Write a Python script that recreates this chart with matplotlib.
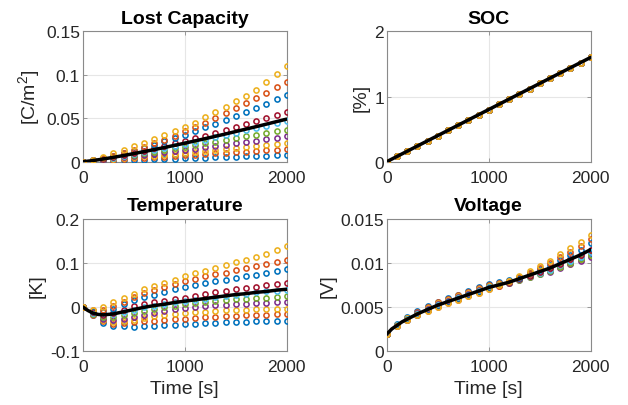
import matplotlib
matplotlib.use("Agg")
import matplotlib.pyplot as plt

plt.rcParams['font.family'] = ['Liberation Sans', 'DejaVu Sans']
plt.rcParams['mathtext.default'] = 'regular'

# ---------------- data ----------------
t = [0, 100, 200, 300, 400, 500, 600, 700, 800, 900, 1000,
     1100, 1200, 1300, 1400, 1500, 1600, 1700, 1800, 1900, 2000]
t_line = [0, 50, 100, 150, 200, 300, 400, 500, 600, 700, 800, 900, 1000,
          1100, 1200, 1300, 1400, 1500, 1600, 1700, 1800, 1900, 2000]

series_colors = ['#0072BD', '#D95319', '#EDB120', '#7E2F8E', '#77AC30',
                 '#4DBEEE', '#A2142F', '#0072BD', '#D95319', '#EDB120']

cap_s1 = [0, 0.0005, 0.0009, 0.0013, 0.0017, 0.0021, 0.0025, 0.0029, 0.0032, 0.0036, 0.0040, 0.0044, 0.0047, 0.0051, 0.0055, 0.0058, 0.0062, 0.0066, 0.0070, 0.0073, 0.0077]
cap_s2 = [0, 0.0007, 0.0015, 0.0022, 0.0029, 0.0037, 0.0044, 0.0051, 0.0058, 0.0066, 0.0073, 0.0080, 0.0088, 0.0095, 0.0102, 0.0110, 0.0117, 0.0124, 0.0131, 0.0139, 0.0146]
cap_s3 = [0, 0.0009, 0.0019, 0.0029, 0.0039, 0.0049, 0.0060, 0.0070, 0.0080, 0.0091, 0.0102, 0.0112, 0.0123, 0.0134, 0.0144, 0.0155, 0.0166, 0.0177, 0.0188, 0.0199, 0.0210]
cap_s4 = [0, 0.0011, 0.0024, 0.0037, 0.0050, 0.0064, 0.0078, 0.0092, 0.0106, 0.0121, 0.0136, 0.0151, 0.0166, 0.0181, 0.0196, 0.0211, 0.0227, 0.0243, 0.0258, 0.0274, 0.0290]
cap_s5 = [0, 0.0014, 0.0030, 0.0047, 0.0064, 0.0081, 0.0099, 0.0117, 0.0136, 0.0154, 0.0173, 0.0192, 0.0211, 0.0231, 0.0250, 0.0270, 0.0290, 0.0309, 0.0330, 0.0350, 0.0370]
cap_s6 = [0, 0.0013, 0.0030, 0.0048, 0.0068, 0.0089, 0.0111, 0.0133, 0.0157, 0.0180, 0.0205, 0.0229, 0.0255, 0.0280, 0.0306, 0.0333, 0.0360, 0.0387, 0.0414, 0.0442, 0.0470]
cap_s7 = [0, 0.0014, 0.0033, 0.0054, 0.0077, 0.0102, 0.0127, 0.0154, 0.0182, 0.0211, 0.0240, 0.0270, 0.0301, 0.0333, 0.0365, 0.0398, 0.0431, 0.0465, 0.0500, 0.0535, 0.0570]
cap_s8 = [0, 0.0016, 0.0039, 0.0066, 0.0096, 0.0127, 0.0161, 0.0197, 0.0233, 0.0272, 0.0311, 0.0352, 0.0394, 0.0437, 0.0481, 0.0527, 0.0573, 0.0619, 0.0667, 0.0716, 0.0765]
cap_s9 = [0, 0.0017, 0.0040, 0.0068, 0.0100, 0.0135, 0.0172, 0.0212, 0.0255, 0.0301, 0.0349, 0.0398, 0.0450, 0.0503, 0.0558, 0.0615, 0.0673, 0.0733, 0.0794, 0.0856, 0.0920]
cap_s10 = [0, 0.0022, 0.0055, 0.0095, 0.0135, 0.0175, 0.0212, 0.0258, 0.0308, 0.0355, 0.0400, 0.0450, 0.0510, 0.0570, 0.0630, 0.0700, 0.0760, 0.0830, 0.0920, 0.1010, 0.1100]
cap_model = [0, 0.0006, 0.0013, 0.0022, 0.0031, 0.0050, 0.0071, 0.0093, 0.0116, 0.0139, 0.0163, 0.0188, 0.0213, 0.0239, 0.0265, 0.0292, 0.0319, 0.0347, 0.0375, 0.0403, 0.0432, 0.0461, 0.0490]

soc_points = [0, 0.08, 0.16, 0.24, 0.32, 0.40, 0.48, 0.56, 0.64, 0.72, 0.80, 0.88, 0.96, 1.04, 1.12, 1.20, 1.28, 1.36, 1.44, 1.52, 1.60]
soc_model = [0, 0.04, 0.08, 0.12, 0.16, 0.24, 0.32, 0.40, 0.48, 0.56, 0.64, 0.72, 0.80, 0.88, 0.96, 1.04, 1.12, 1.20, 1.28, 1.36, 1.44, 1.52, 1.60]

temp_s1 = [0, -0.019, -0.036, -0.043, -0.044, -0.045, -0.044, -0.043, -0.042, -0.040, -0.039, -0.038, -0.037, -0.036, -0.035, -0.035, -0.034, -0.033, -0.033, -0.032, -0.031]
temp_s2 = [0, -0.018, -0.033, -0.038, -0.037, -0.035, -0.033, -0.031, -0.030, -0.028, -0.027, -0.025, -0.024, -0.023, -0.021, -0.020, -0.019, -0.019, -0.018, -0.017, -0.017]
temp_s3 = [0, -0.017, -0.030, -0.034, -0.032, -0.029, -0.025, -0.021, -0.018, -0.016, -0.014, -0.012, -0.011, -0.009, -0.008, -0.007, -0.006, -0.005, -0.005, -0.004, -0.004]
temp_s4 = [0, -0.016, -0.027, -0.030, -0.027, -0.023, -0.018, -0.013, -0.009, -0.005, -0.002, 0.000, 0.002, 0.004, 0.005, 0.006, 0.007, 0.008, 0.009, 0.010, 0.011]
temp_s5 = [0, -0.015, -0.024, -0.024, -0.019, -0.014, -0.009, -0.005, -0.001, 0.003, 0.006, 0.008, 0.011, 0.013, 0.015, 0.017, 0.018, 0.020, 0.021, 0.023, 0.024]
temp_s6 = [0, -0.014, -0.019, -0.016, -0.011, -0.006, -0.001, 0.003, 0.006, 0.010, 0.013, 0.016, 0.019, 0.022, 0.025, 0.028, 0.030, 0.033, 0.035, 0.037, 0.039]
temp_s7 = [0, -0.012, -0.018, -0.014, -0.006, 0.002, 0.006, 0.010, 0.014, 0.018, 0.021, 0.025, 0.029, 0.033, 0.037, 0.040, 0.043, 0.046, 0.049, 0.052, 0.054]
temp_s8 = [0, -0.010, -0.012, -0.005, 0.006, 0.015, 0.022, 0.028, 0.034, 0.040, 0.045, 0.050, 0.054, 0.058, 0.062, 0.066, 0.070, 0.073, 0.077, 0.081, 0.085]
temp_s9 = [0, -0.008, -0.006, 0.002, 0.012, 0.022, 0.031, 0.039, 0.046, 0.053, 0.059, 0.064, 0.069, 0.074, 0.078, 0.083, 0.088, 0.093, 0.098, 0.102, 0.107]
temp_s10 = [0, -0.006, 0.000, 0.010, 0.021, 0.030, 0.040, 0.048, 0.055, 0.062, 0.069, 0.076, 0.082, 0.088, 0.095, 0.101, 0.107, 0.114, 0.120, 0.128, 0.138]
temp_model = [0, -0.008, -0.014, -0.017, -0.018, -0.016, -0.011, -0.006, -0.001, 0.003, 0.006, 0.010, 0.013, 0.016, 0.019, 0.022, 0.025, 0.028, 0.030, 0.033, 0.035, 0.038, 0.040]

volt_s1 = [0.00190, 0.00302, 0.00384, 0.00452, 0.00510, 0.00560, 0.00600, 0.00640, 0.00680, 0.00720, 0.00760, 0.00783, 0.00806, 0.00838, 0.00870, 0.00902, 0.00934, 0.00976, 0.01018, 0.01059, 0.01110]
volt_s2 = [0.00190, 0.00299, 0.00378, 0.00444, 0.00500, 0.00550, 0.00590, 0.00630, 0.00670, 0.00710, 0.00750, 0.00772, 0.00795, 0.00826, 0.00857, 0.00888, 0.00919, 0.00960, 0.01001, 0.01041, 0.01090]
volt_s3 = [0.00190, 0.00296, 0.00372, 0.00436, 0.00490, 0.00540, 0.00580, 0.00620, 0.00660, 0.00700, 0.00740, 0.00762, 0.00786, 0.00817, 0.00848, 0.00879, 0.00910, 0.00951, 0.00992, 0.01031, 0.01080]
volt_s4 = [0.00190, 0.00293, 0.00366, 0.00428, 0.00480, 0.00530, 0.00570, 0.00610, 0.00650, 0.00690, 0.00730, 0.00753, 0.00776, 0.00807, 0.00838, 0.00869, 0.00900, 0.00941, 0.00982, 0.01021, 0.01070]
volt_s5 = [0.00190, 0.00290, 0.00360, 0.00420, 0.00470, 0.00520, 0.00560, 0.00600, 0.00640, 0.00680, 0.00720, 0.00745, 0.00771, 0.00805, 0.00839, 0.00873, 0.00907, 0.00951, 0.00995, 0.01038, 0.01090]
volt_s6 = [0.00190, 0.00290, 0.00360, 0.00420, 0.00470, 0.00520, 0.00560, 0.00600, 0.00640, 0.00680, 0.00720, 0.00748, 0.00776, 0.00813, 0.00850, 0.00887, 0.00924, 0.00971, 0.01018, 0.01064, 0.01120]
volt_s7 = [0.00190, 0.00287, 0.00354, 0.00412, 0.00460, 0.00510, 0.00550, 0.00590, 0.00630, 0.00670, 0.00710, 0.00741, 0.00772, 0.00813, 0.00854, 0.00895, 0.00936, 0.00987, 0.01038, 0.01089, 0.01150]
volt_s8 = [0.00190, 0.00287, 0.00354, 0.00412, 0.00460, 0.00510, 0.00550, 0.00590, 0.00630, 0.00670, 0.00710, 0.00747, 0.00783, 0.00831, 0.00879, 0.00927, 0.00975, 0.01033, 0.01091, 0.01150, 0.01220]
volt_s9 = [0.00190, 0.00284, 0.00348, 0.00404, 0.00450, 0.00500, 0.00540, 0.00580, 0.00620, 0.00660, 0.00700, 0.00742, 0.00782, 0.00836, 0.00890, 0.00944, 0.00998, 0.01062, 0.01126, 0.01192, 0.01270]
volt_s10 = [0.00190, 0.00284, 0.00348, 0.00404, 0.00450, 0.00500, 0.00540, 0.00580, 0.00620, 0.00660, 0.00700, 0.00746, 0.00790, 0.00849, 0.00908, 0.00967, 0.01026, 0.01095, 0.01164, 0.01236, 0.01320]
volt_model = [0.0019, 0.0025, 0.0029, 0.0033, 0.0036, 0.0042, 0.0047, 0.0052, 0.0056, 0.0060, 0.0064, 0.0068, 0.0072, 0.0075, 0.0078, 0.0082, 0.0086, 0.0090, 0.0094, 0.0099, 0.0104, 0.0109, 0.0115]

cap_series = [cap_s1, cap_s2, cap_s3, cap_s4, cap_s5, cap_s6, cap_s7, cap_s8, cap_s9, cap_s10]
soc_series = [soc_points] * 10
temp_series = [temp_s1, temp_s2, temp_s3, temp_s4, temp_s5, temp_s6, temp_s7, temp_s8, temp_s9, temp_s10]
volt_series = [volt_s1, volt_s2, volt_s3, volt_s4, volt_s5, volt_s6, volt_s7, volt_s8, volt_s9, volt_s10]

titles = ['Lost Capacity', 'SOC', 'Temperature', 'Voltage']
ylabels = ['[C/m$^2$]', '[%]', '[K]', '[V]']
xticks = [0, 1000, 2000]
xticklabels = ['0', '1000', '2000']
cap_yticks = [0, 0.05, 0.1, 0.15]
cap_yticklabels = ['0', '0.05', '0.1', '0.15']
soc_yticks = [0, 1, 2]
soc_yticklabels = ['0', '1', '2']
temp_yticks = [-0.1, 0, 0.1, 0.2]
temp_yticklabels = ['-0.1', '0', '0.1', '0.2']
volt_yticks = [0, 0.005, 0.01, 0.015]
volt_yticklabels = ['0', '0.005', '0.01', '0.015']

# ---------------- figure ----------------
W, H = 628, 406
fig = plt.figure(figsize=(W / 100, H / 100), dpi=100)

def px_axes(x0, y0, x1, y1):
    return fig.add_axes([x0 / W, 1 - y1 / H, (x1 - x0) / W, (y1 - y0) / H])

axes = [px_axes(82.7, 32.3, 286.7, 162.7),
        px_axes(386.7, 32.3, 590.7, 162.7),
        px_axes(82.7, 219.7, 286.7, 352.0),
        px_axes(386.7, 219.7, 590.7, 352.0)]

panels = [
    (cap_series, cap_model, cap_yticks, cap_yticklabels),
    (soc_series, soc_model, soc_yticks, soc_yticklabels),
    (temp_series, temp_model, temp_yticks, temp_yticklabels),
    (volt_series, volt_model, volt_yticks, volt_yticklabels),
]

text_color = '#262626'
for i, (ax, (series, model, yt, ytl)) in enumerate(zip(axes, panels)):
    for vals, c in zip(series, series_colors):
        ax.plot(t, vals, linestyle='none', marker='o', markersize=3.7,
                markerfacecolor='none', markeredgecolor=c, markeredgewidth=1.15,
                zorder=3)
    ax.plot(t_line, model, color='black', linewidth=2.5, zorder=4,
            solid_capstyle='round')
    ax.set_xlim(xticks[0], xticks[-1])
    ax.set_ylim(yt[0], yt[-1])
    ax.set_xticks(xticks)
    ax.set_xticklabels(xticklabels)
    ax.set_yticks(yt)
    ax.set_yticklabels(ytl)
    ax.grid(True, color='#e6e6e6', linewidth=0.8, zorder=0)
    ax.set_axisbelow(True)
    for sp in ax.spines.values():
        sp.set_color('#8a8a8a')
        sp.set_linewidth(0.8)
    ax.tick_params(direction='in', length=3, width=0.6, color='#8a8a8a',
                   labelsize=12.5, labelcolor=text_color,
                   top=True, right=True)
    ax.tick_params(axis='x', pad=6)
    ax.tick_params(axis='y', pad=2)
    ax.set_title(titles[i], fontsize=14, fontweight='bold', color='black', pad=6)
    ax.set_ylabel(ylabels[i], fontsize=14, color=text_color, labelpad=3)
    if i >= 2:
        ax.set_xlabel('Time [s]', fontsize=14, color=text_color, labelpad=4)

fig.savefig('out.png', dpi=100)
